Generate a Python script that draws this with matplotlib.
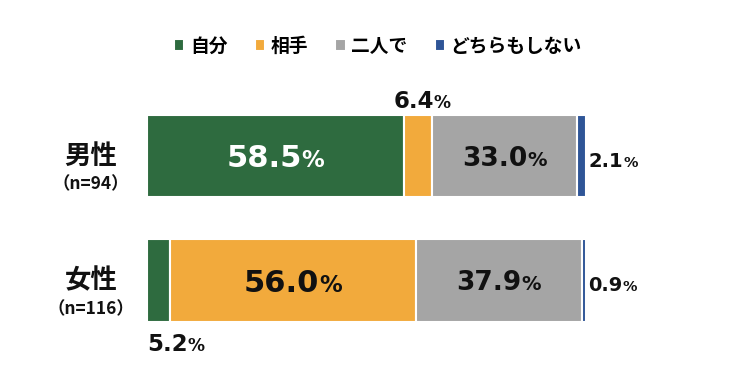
import matplotlib
matplotlib.use("Agg")
import matplotlib.pyplot as plt

plt.rcParams["font.family"] = ["Noto Sans CJK JP", "DejaVu Sans"]

groups = ["男性", "女性"]
group_n = ["（n=94）", "（n=116）"]
answers = ["自分", "相手", "二人で", "どちらもしない"]
colors = ["#2e6b3f", "#f2aa3c", "#a5a5a5", "#2f5597"]
values = [
    [58.5, 5.2],   # 自分
    [6.4, 56.0],   # 相手
    [33.0, 37.9],  # 二人で
    [2.1, 0.9],    # どちらもしない
]

fig = plt.figure(figsize=(7.5, 3.85), dpi=100)
ax = fig.add_axes([0.196, 0.0774, 0.585, 0.776])
ypos = list(range(len(groups)))

left = [0.0] * len(groups)
bars = []
for name, vals, col in zip(answers, values, colors):
    b = ax.barh(ypos, vals, left=left, height=0.66, color=col,
                edgecolor="white", linewidth=1.5, label=name)
    bars.append(b)
    left = [l + v for l, v in zip(left, vals)]

ax.set_xlim(0, 100)
ax.set_ylim(1.6, -0.8)
ax.axis("off")

renderer = fig.canvas.get_renderer()


def pct_label(x, y, value, size, color, align="center"):
    # number and a smaller "%" on the same baseline
    kw = dict(xy=(x, y), textcoords="offset points", xytext=(0, 0),
              ha="left", va="baseline", color=color, fontweight="bold",
              family="DejaVu Sans", annotation_clip=False)
    num = ax.annotate(f"{value:.1f}", fontsize=size, **kw)
    pct = ax.annotate("%", fontsize=size * 0.74, **kw)
    wn = num.get_window_extent(renderer).width * 72 / fig.dpi
    wp = pct.get_window_extent(renderer).width * 72 / fig.dpi
    x0 = -(wn + wp) / 2 if align == "center" else 0
    dy = -0.36 * size
    num.xyann = (x0, dy)
    pct.xyann = (x0 + wn, dy)


# big labels inside bars
pct_label(values[0][0] / 2, 0, values[0][0], 22, "white")
pct_label(values[0][0] + values[1][0] + values[2][0] / 2, 0, values[2][0], 19, "#111111")
pct_label(values[0][1] + values[1][1] / 2, 1, values[1][1], 22, "#111111")
pct_label(values[0][1] + values[1][1] + values[2][1] / 2, 1, values[2][1], 19, "#111111")

# small labels outside
pct_label(values[0][0] + values[1][0] / 2 + 1, -0.45, values[1][0], 16.5, "#111111")
pct_label(0, 1.5, values[0][1], 16.5, "#111111", align="left")
pct_label(100.6, 0.03, values[3][0], 14, "#111111", align="left")
pct_label(100.6, 1.03, values[3][1], 14, "#111111", align="left")

# group labels
ytr = ax.get_yaxis_transform()
for y, g, n in zip(ypos, groups, group_n):
    ax.text(-0.128, y, g, transform=ytr, ha="center", va="center",
            fontsize=19, fontweight="bold", color="#111111")
    ax.text(-0.128, y + 0.23, n, transform=ytr, ha="center", va="center",
            fontsize=12.5, fontweight="bold", color="#111111")

ax.legend(loc="center", bbox_to_anchor=(0.504, 0.88), bbox_transform=fig.transFigure,
          ncol=4, frameon=False, handlelength=0.55, handleheight=0.55,
          handletextpad=0.3, columnspacing=1.45,
          prop={"size": 13.5, "weight": "bold"})

fig.savefig("out.png", dpi=100)
